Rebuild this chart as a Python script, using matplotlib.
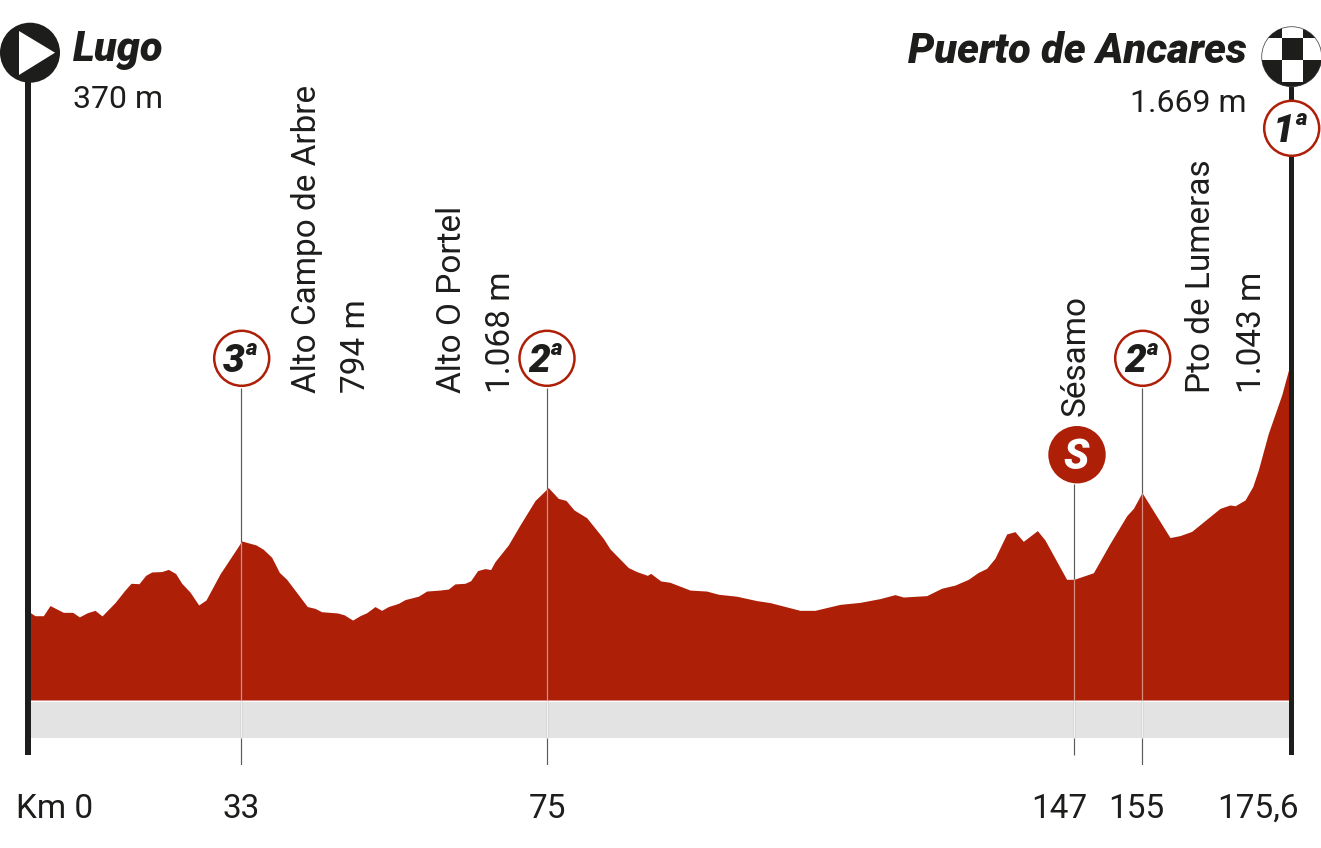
import numpy as np
import matplotlib
matplotlib.use("Agg")
import matplotlib.pyplot as plt
from matplotlib.patches import Circle, Polygon, Rectangle
from matplotlib.transforms import Affine2D

plt.rcParams['font.family'] = ['Roboto', 'Liberation Sans', 'DejaVu Sans']

# ---- data ----
profile_km = [0, 0.93, 2.23, 3.27, 5.35, 6.80, 7.84, 9.08, 10.27, 11.37, 13.39, 14.94, 15.88, 17.12,
              18.16, 19.10, 20.65, 21.69, 22.83, 23.77, 25.06, 26.41, 27.55, 29.73, 33.0, 33.09,
              35.06, 36.06, 37.21, 38.26, 39.27, 42.10, 43.15, 44.07, 46.22, 47.13, 48.32, 49.33,
              50.25, 51.39, 52.30, 53.22, 54.59, 55.51, 57.34, 58.48, 60.31, 61.45, 62.37, 63.74,
              64.52, 65.48, 66.49, 67.26, 67.86, 69.69, 71.29, 73.35, 75.0, 75.18, 76.55, 77.59,
              78.69, 80.42, 82.69, 83.61, 86.11, 87.25, 88.71, 89.16, 90.53, 91.80, 94.54, 96.81,
              98.41, 100.91, 103.64, 105.46, 109.56, 111.61, 115.03, 117.76, 120.49, 122.54, 123.68,
              126.87, 128.91, 130.74, 132.56, 133.92, 135.06, 136.20, 137.80, 138.93, 140.07, 141.99,
              143.03, 145.99, 147.0, 149.28, 151.24, 153.20, 153.99, 155.0, 158.9, 160.29, 161.91,
              165.86, 167.25, 167.95, 169.34, 170.41, 171.19, 172.58, 174.44, 175.46, 175.6]
profile_alt = [444, 424, 424, 475, 441, 441, 418, 439, 451, 423, 490, 553, 587, 585,
               627, 644, 646, 657, 636, 587, 543, 478, 503, 634, 794, 800,
               780, 758, 718, 642, 607, 470, 461, 444, 438, 429, 402, 424,
               439, 470, 451, 470, 486, 505, 522, 548, 553, 558, 584, 587,
               600, 651, 661, 656, 696, 780, 880, 1003, 1062, 1068, 1014, 1004,
               956, 917, 813, 760, 666, 646, 627, 637, 599, 592, 553, 548,
               532, 522, 500, 490, 451, 451, 481, 491, 510, 530, 518,
               525, 562, 578, 607, 642, 662, 713, 835, 847, 798, 852,
               805, 607, 607, 640, 788, 927, 964, 1043, 817, 827, 848,
               964, 981, 977, 1006, 1073, 1157, 1341, 1534, 1669, 1669]

tick_km = [0, 33, 75, 147, 155, 175.6]
tick_labels = ['Km 0', '33', '75', '147', '155', '175,6']
tick_dx = [26, 0, 0, -15, -6, -32]

climb_km = [33, 75, 147, 155]
start_name, start_alt = 'Lugo', '370 m'
finish_name, finish_alt = 'Puerto de Ancares', '1.669 m'

# the km axis of the original graphic is not quite linear
km_anchor = [0, 33, 75, 147, 155, 175.6]
px_anchor = [29, 241, 547, 1074, 1142, 1290]

RED = '#AE1F08'
INK = '#1D1D1B'
BAND = '#E3E3E3'
W, H = 1321, 848
M_PER_PX = 5.03


def alt_at(y_px):
    return (700 - y_px) * M_PER_PX


fig = plt.figure(figsize=(W / 100, H / 100), dpi=100, facecolor='white')
ax = fig.add_axes([29 / W, (H - 765) / H, (1290 - 29) / W, 765 / H])
ax.set_xscale('function', functions=(lambda v: np.interp(v, km_anchor, px_anchor),
                                     lambda v: np.interp(v, px_anchor, km_anchor)))
ax.set_xlim(0, 175.6)
ax.set_ylim(alt_at(765), alt_at(0))
for s in ax.spines.values():
    s.set_visible(False)
ax.set_yticks([])
ax.set_xticks(tick_km)
ax.set_xticklabels(tick_labels, fontsize=24, color=INK)
ax.minorticks_off()
ax.tick_params(axis='x', length=0, pad=38)
for lab, dx in zip(ax.get_xticklabels(), tick_dx):
    lab.set_va('baseline')
    lab.set_transform(lab.get_transform() + Affine2D().translate(dx, 0))

# profile and band
ax.fill_between(profile_km, 0, profile_alt, color=RED, lw=0, zorder=2)
ax.fill_between([0.25, 175.6], alt_at(702.4), alt_at(738), color=BAND, lw=0, zorder=2)

# climb / sprint lines: dark on white, light over fill and band
tops = [alt_at(388), alt_at(388), alt_at(484), alt_at(388)]
bottoms = [alt_at(765), alt_at(765), alt_at(755), alt_at(765)]
for km, top, bot in zip(climb_km, tops, bottoms):
    elev = np.interp(km, profile_km, profile_alt)
    ax.vlines(km, bot, top, color='#5A5A5A', lw=0.85, zorder=3)
    ax.vlines(km, 0, elev, color='#D98F80', lw=0.85, zorder=4)
    ax.vlines(km, alt_at(700), alt_at(738), color='#F2F2F2', lw=0.85, zorder=4)

# overlay in pixel coordinates for the decoration
o = fig.add_axes([0, 0, 1, 1], facecolor='none')
o.set_xlim(0, W)
o.set_ylim(H, 0)
o.axis('off')

# end posts
o.add_patch(Rectangle((25.2, 70), 5.5, 755 - 70, color=INK, lw=0, zorder=3))
o.add_patch(Rectangle((1289.2, 70), 5, 755 - 70, color=INK, lw=0, zorder=3))

# start symbol
o.add_patch(Circle((30, 52.7), 30, color=INK, lw=0, zorder=5))
o.add_patch(Polygon([(19, 31), (55, 52.7), (19, 75)], color='white', lw=0, zorder=6))

# finish symbol
fc = (1291.7, 56.7)
fr = 30
clip = Circle(fc, fr, facecolor='white', edgecolor='#555555', lw=0.6, zorder=5)
o.add_patch(clip)
cols = [1255, 1282.3, 1303.3, 1330]
rows = [20, 37.7, 60, 81.7, 95]
pattern = [[1, 0, 1], [0, 1, 0], [1, 0, 1], [1, 1, 1]]
for r, row in enumerate(pattern):
    for c, on in enumerate(row):
        if on:
            rect = Rectangle((cols[c], rows[r]), cols[c + 1] - cols[c], rows[r + 1] - rows[r],
                             color=INK, lw=0, zorder=6)
            o.add_patch(rect)
            rect.set_clip_path(clip)

TXT = dict(color=INK, zorder=8)
BI = dict(fontweight=900, fontstyle='italic')

# headings
o.text(73, 61, start_name, fontsize=30, ha='left', va='baseline', **BI, **TXT)
o.text(73, 108, start_alt, fontsize=23, ha='left', va='baseline', **TXT)
o.text(1247, 63, finish_name, fontsize=30, ha='right', va='baseline', **BI, **TXT)
o.text(1246, 112, finish_alt, fontsize=23, ha='right', va='baseline', **TXT)

# vertical labels: (text, x of baseline, y of start)
vlabels = [('Alto Campo de Arbre', 316, 393), ('794 m', 365, 393),
           ('Alto O Portel', 461, 393), ('1.068 m', 510, 393),
           ('Sésamo', 1085, 416), ('Pto de Lumeras', 1210, 393), ('1.043 m', 1261, 393)]
for t, x, y in vlabels:
    o.text(x, y, t, rotation=90, rotation_mode='anchor', fontsize=24, ha='left', va='baseline', **TXT)


def badge(cx, cy, cat):
    o.add_patch(Circle((cx, cy), 27.5, facecolor='white', edgecolor=RED, lw=1.8, zorder=7))
    o.text(cx - 8, cy + 14, cat, fontsize=28, ha='center', va='baseline', **BI, **TXT)
    o.text(cx + 9, cy - 3, 'a', fontsize=16, ha='center', va='baseline', **BI, **TXT)


badge(241.7, 358.3, '3')
badge(547, 358.3, '2')
badge(1142.7, 358.3, '2')
badge(1291.7, 128.3, '1')

o.add_patch(Circle((1077, 454.7), 28.7, color=RED, lw=0, zorder=7))
o.text(1076, 469, 'S', fontsize=30, color='white', ha='center', va='baseline', zorder=8, **BI)

fig.savefig('out.png', dpi=100, facecolor='white')
